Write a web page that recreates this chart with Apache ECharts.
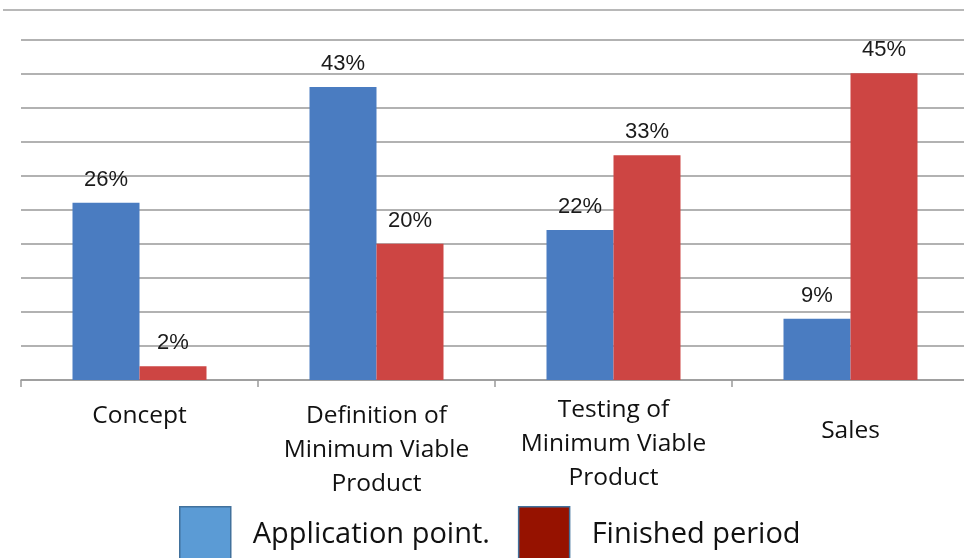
<!DOCTYPE html>
<html>
<head>
<meta charset="utf-8">
<title>Product stages</title>
<script src="https://cdn.jsdelivr.net/npm/echarts@6/dist/echarts.min.js"></script>
<style>
  html, body { margin: 0; padding: 0; background: #fff; }
  #chart { width: 964px; height: 558px; }
</style>
</head>
<body>
<div id="chart"></div>
<script>
// Stages of the product cycle
const categories = [
  'Concept',
  'Definition of\nMinimum Viable\nProduct',
  'Testing of\nMinimum Viable\nProduct',
  'Sales'
];
// extra top padding for each stage label, in px
const labelShift = [6, 6, 0, 21];

const seriesNames = ['Application point.', 'Finished period'];
const applicationPoint = [26, 43, 22, 9];
const finishedPeriod = [2, 20, 33, 45];

const barColors = ['#4a7cc1', '#cd4543'];
const legendColors = ['#5b9bd5', '#961200'];

const chart = echarts.init(document.getElementById('chart'), null, { renderer: 'canvas' });

const valueLabel = {
  show: true,
  position: 'top',
  distance: 12,
  formatter: '{c}%',
  fontFamily: 'Liberation Sans, Arial, sans-serif',
  fontSize: 22,
  color: '#1a1a1a'
};

chart.setOption({
  animation: false,
  backgroundColor: '#ffffff',
  // the plot runs a little past the right edge of the canvas
  grid: {
    left: 21, top: 39.3, width: 948, bottom: 178,
    containLabel: false,
    outerBoundsMode: 'none'
  },
  graphic: [{
    type: 'line',
    shape: { x1: 3, y1: 10, x2: 964, y2: 10 },
    style: { stroke: '#a0a0a0', lineWidth: 1.5 },
    silent: true
  }],
  legend: {
    left: 179,
    top: 506,
    padding: 0,
    icon: 'rect',
    itemWidth: 51,
    itemHeight: 56,
    itemGap: 28,
    textStyle: {
      fontFamily: 'Open Sans, sans-serif',
      fontSize: 29,
      color: '#111',
      padding: [0, 0, 18, 17]
    },
    data: seriesNames.map((n, i) => ({
      name: n,
      itemStyle: { color: legendColors[i], borderColor: '#41719c', borderWidth: 1.5 }
    }))
  },
  xAxis: {
    type: 'category',
    data: categories.map((c, i) => ({
      value: c,
      textStyle: { padding: [labelShift[i], 0, 0, 0] }
    })),
    axisLine: { show: true, lineStyle: { color: '#9a9a9a', width: 1.5 } },
    axisTick: { show: true, alignWithLabel: false, length: 7, lineStyle: { color: '#9a9a9a', width: 1.5 } },
    axisLabel: {
      interval: 0,
      margin: 13,
      fontFamily: 'Open Sans, sans-serif',
      fontSize: 24.5,
      lineHeight: 34,
      color: '#111',
      align: 'center'
    },
    splitLine: { show: false }
  },
  yAxis: {
    type: 'value',
    min: 0,
    max: 50,
    interval: 5,
    axisLine: { show: false },
    axisTick: { show: false },
    axisLabel: { show: false },
    splitLine: { show: true, lineStyle: { color: '#999999', width: 1.5 } }
  },
  series: [
    {
      name: seriesNames[0],
      type: 'bar',
      data: applicationPoint,
      barWidth: 67,
      barGap: '0%',
      itemStyle: { color: barColors[0] },
      label: valueLabel
    },
    {
      name: seriesNames[1],
      type: 'bar',
      data: finishedPeriod,
      barWidth: 67,
      barGap: '0%',
      itemStyle: { color: barColors[1] },
      label: valueLabel
    }
  ]
});
</script>
</body>
</html>
